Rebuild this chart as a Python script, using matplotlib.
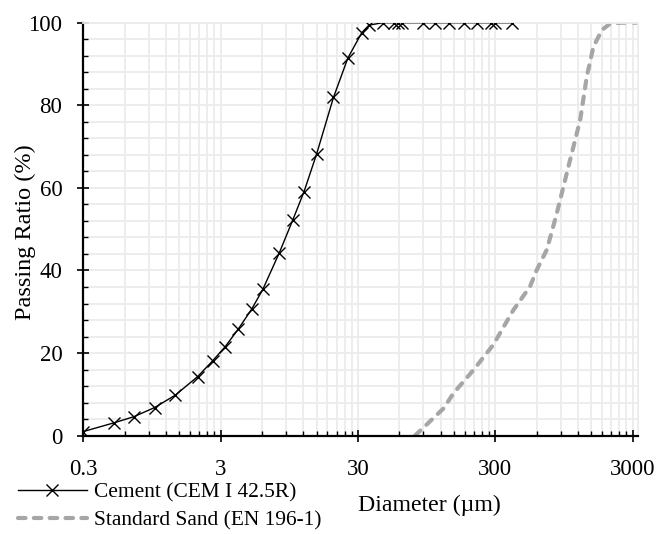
#!/usr/bin/env python3
"""
Particle size distribution of cement and standard sand (passing ratio vs diameter).
Saves the figure to out.png.
"""

import matplotlib.pyplot as plt
from matplotlib.ticker import FixedLocator, FixedFormatter, MultipleLocator

# Cement (CEM I 42.5R) - laser diffraction points
cement_d = [0.3, 0.5, 0.7, 0.99, 1.4, 2.04, 2.62, 3.23, 4.03, 5.04, 6.08, 8.03,
            10.05, 12.15, 15.0, 19.9, 25.3, 32.0, 36.1, 45.5, 55.2, 59.1, 62.5,
            89, 109, 139, 178, 222, 278, 299, 395]
cement_pass = [1.0, 3.1, 4.6, 6.8, 9.8, 14.3, 18.1, 21.5, 25.8, 30.6, 35.4, 44.3,
               52.2, 59.1, 68.2, 81.9, 91.4, 97.6, 99.4, 100, 100, 100, 100,
               100, 100, 100, 100, 100, 100, 100, 100]

# Standard sand (EN 196-1)
sand_d = [78, 126, 149, 208, 290, 406, 537, 601, 711, 774, 841, 1022, 1245, 1391,
          1556, 1791, 2058, 2500, 3300]
sand_pass = [0, 6.6, 10.3, 15.9, 22.0, 30.4, 36.1, 40.1, 45.0, 49.4, 53.8, 65.1, 76.4,
             86.9, 94.2, 98.2, 99.8, 100, 100]

x_ticks = [0.3, 3, 30, 300, 3000]
x_tick_labels = ['0.3', '3', '30', '300', '3000']

plt.rcParams['font.family'] = ['Liberation Serif', 'DejaVu Serif']
plt.rcParams['font.size'] = 16

fig = plt.figure(figsize=(6.57, 5.34), dpi=100)
ax = fig.add_axes([0.1268, 0.1841, 0.9715 - 0.1268, 0.9575 - 0.1841])

grid_color = '#ececec'

ax.plot(cement_d, cement_pass, color='black', linewidth=1.0, marker='x',
        markersize=8, markeredgewidth=1.0, label='Cement (CEM I 42.5R)', zorder=3)
ax.plot(sand_d, sand_pass, color='#a6a6a6', linewidth=3.0, linestyle=(0, (1.8, 2.0)),
        dash_capstyle='round', label='Standard Sand (EN 196-1)', zorder=2)

ax.set_xscale('log')
ax.set_xlim(0.3, 3300)
ax.set_ylim(0, 100)

# log axis that starts at 0.3, minor ticks at multiples of the decade start
minor = [0.3 * k * 10 ** n for n in range(4) for k in range(2, 10)]
ax.xaxis.set_major_locator(FixedLocator(x_ticks))
ax.xaxis.set_major_formatter(FixedFormatter(x_tick_labels))
ax.xaxis.set_minor_locator(FixedLocator(minor))
ax.xaxis.set_minor_formatter(FixedFormatter([''] * len(minor)))
ax.yaxis.set_major_locator(MultipleLocator(20))
ax.yaxis.set_minor_locator(MultipleLocator(4))

ax.grid(which='both', color=grid_color, linewidth=1.3, zorder=0)
ax.set_axisbelow(True)

for side in ['left', 'bottom']:
    ax.spines[side].set_linewidth(1.6)
    ax.spines[side].set_color('black')
for side in ['top', 'right']:
    ax.spines[side].set_color(grid_color)
    ax.spines[side].set_linewidth(1.3)

ax.tick_params(which='major', direction='inout', length=8, width=1.2, labelsize=16.5)
ax.tick_params(which='minor', direction='in', length=3.5, width=1.0)
ax.tick_params(axis='x', which='major', pad=12.5)
ax.tick_params(axis='y', which='major', pad=11)

fig.text(25 / 657, 0.565, 'Passing Ratio (%)', rotation=90, ha='center', va='center',
         fontsize=17.5)
fig.text(0.654, 0.054, 'Diameter (\u00b5m)', ha='center', va='center', fontsize=17.2)

fig.legend(loc='upper left', bbox_to_anchor=(0.027, 0.097), frameon=False,
           borderaxespad=0, borderpad=0, handlelength=3.25, handletextpad=0.3,
           labelspacing=0.4, numpoints=1, fontsize=15.4)

fig.savefig('out.png', dpi=100, facecolor='white')
plt.close(fig)
